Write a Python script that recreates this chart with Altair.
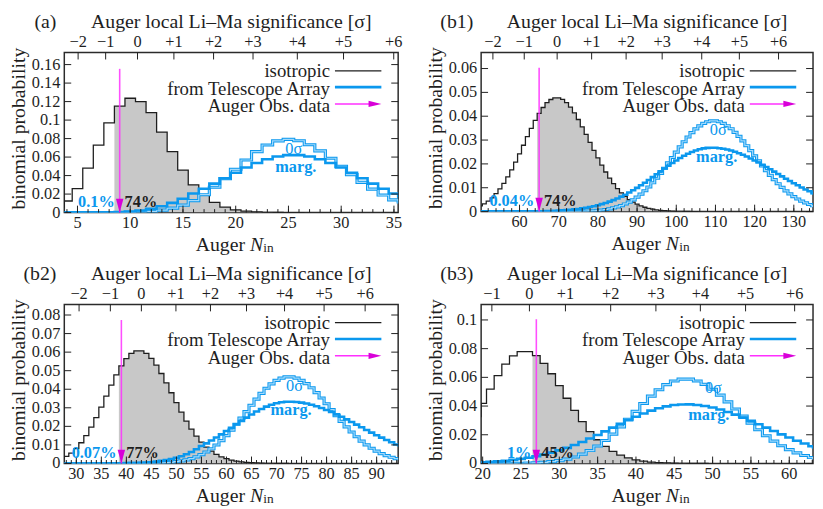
import altair as alt
import pandas as pd

FONT = "Liberation Serif"
INK = "#1e1e1e"
GRAY = "#c8c8c8"
BLUE = "#0b98ee"
BLUE_IN = "#a4dafc"
MAG_LINE = "#ff30ff"
MAG_HEAD = "#d800d8"

SIG9 = ["\u22122", "\u22121", "0", "+1", "+2", "+3", "+4", "+5", "+6"]
SIG8 = ["\u22121", "0", "+1", "+2", "+3", "+4", "+5", "+6"]

# ---------------- panel (a) ----------------
A_ISO_N0 = 3
A_ISO = [0.0055, 0.0125, 0.026, 0.048, 0.073, 0.097, 0.115, 0.1236, 0.120, 0.108,
         0.087, 0.066, 0.046, 0.030, 0.019, 0.011, 0.006, 0.003, 0.0015, 0.0007,
         0.0003, 0.0001, 0.00005, 0.00002]
A_TA0_N0 = 3
A_TA0 = [0, 0, 0, 0, 0.00001, 0.00004, 0.00011, 0.00027, 0.00063, 0.00133,
         0.00261, 0.00475, 0.00808, 0.01287, 0.01931, 0.02735, 0.03671, 0.04680, 0.05683, 0.06587,
         0.07303, 0.07760, 0.07915, 0.07763, 0.07332, 0.06677, 0.05871, 0.04990, 0.04105, 0.03271,
         0.02528, 0.01896, 0.01381, 0.00978]
A_TAM_N0 = 3
A_TAM = [0, 0, 0.00001, 0.00003, 0.0001, 0.0002, 0.0005, 0.0011, 0.0022, 0.0040,
         0.0068, 0.0105, 0.0150, 0.0207, 0.0258, 0.0313, 0.0372, 0.0431, 0.0487, 0.0536,
         0.0577, 0.0606, 0.0621, 0.0621, 0.0606, 0.0577, 0.0536, 0.0487, 0.0431, 0.0372,
         0.0313, 0.0258, 0.0207, 0.0163]

# ---------------- panel (b1) ----------------
B1_ISO_N0 = 50
B1_ISO = [0.00238, 0.00327, 0.00439, 0.00578, 0.00749, 0.00950, 0.01185, 0.01454, 0.01753, 0.02077,
          0.02422, 0.02783, 0.03142, 0.03490, 0.03822, 0.04119, 0.04366, 0.04567, 0.04701, 0.04769,
          0.04770, 0.04703, 0.04571, 0.04379, 0.04144, 0.03863, 0.03556, 0.03234, 0.02900, 0.02569,
          0.02250, 0.01945, 0.01661, 0.01402, 0.01169, 0.00964, 0.00787, 0.00634, 0.00505, 0.00397,
          0.00311, 0.00239, 0.00182, 0.00136, 0.00101, 0.00074, 0.00054, 0.00038, 0.00027, 0.00019,
          0.00013, 0.00009, 0.00006, 0.00004, 0.00002, 0.00001]
B1_TA0_N0 = 50
B1_TA0 = [0, 0, 0, 0, 0, 0, 0, 0, 0, 0,
          0, 0, 0, 0, 0, 0, 0, 0, 0, 0,
          0.00001, 0.00002, 0.00003, 0.00004, 0.00006, 0.00009, 0.00013, 0.00018, 0.00026, 0.00036,
          0.00049, 0.00066, 0.00088, 0.00117, 0.00153, 0.00198, 0.00253, 0.00320, 0.00400, 0.00494,
          0.00604, 0.00730, 0.00873, 0.01032, 0.01208, 0.01399, 0.01603, 0.01818, 0.02041, 0.02268,
          0.02495, 0.02717, 0.02930, 0.03129, 0.03309, 0.03467, 0.03598, 0.03699, 0.03767, 0.03802,
          0.03802, 0.03768, 0.03700, 0.03602, 0.03476, 0.03325, 0.03153, 0.02964, 0.02763, 0.02554,
          0.02341, 0.02128, 0.01919, 0.01716, 0.01522, 0.01339, 0.01169, 0.01013, 0.00870, 0.00742,
          0.00628, 0.00527, 0.00439, 0.00363, 0.00298, 0.00243, 0.00197]
B1_TAM_N0 = 50
B1_TAM = [0.00001, 0.00001, 0.00001, 0.00001, 0.00001, 0.00001, 0.00001, 0.00002, 0.00002, 0.00003,
          0.00004, 0.00005, 0.00006, 0.00008, 0.00010, 0.00013, 0.00017, 0.00021, 0.00027, 0.00033,
          0.00041, 0.00051, 0.00063, 0.00077, 0.00093, 0.00112, 0.00135, 0.00161, 0.00192, 0.00227,
          0.00267, 0.00312, 0.00363, 0.00419, 0.00482, 0.00552, 0.00628, 0.00710, 0.00799, 0.00894,
          0.00995, 0.01102, 0.01213, 0.01328, 0.01446, 0.01565, 0.01686, 0.01805, 0.01923, 0.02037,
          0.02146, 0.02249, 0.02343, 0.02428, 0.02502, 0.02565, 0.02615, 0.02651, 0.02673, 0.02680,
          0.02675, 0.02660, 0.02636, 0.02602, 0.02560, 0.02508, 0.02449, 0.02383, 0.02310, 0.02230,
          0.02146, 0.02057, 0.01965, 0.01870, 0.01773, 0.01675, 0.01576, 0.01478, 0.01381, 0.01286,
          0.01192, 0.01102, 0.01014, 0.00930, 0.00850, 0.00775, 0.00705]

# ---------------- panel (b2) ----------------
B2_ISO_N0 = 27
B2_ISO = [0.00247, 0.00379, 0.00561, 0.00805, 0.01116, 0.01500, 0.01955, 0.02472, 0.03037, 0.03627,
          0.04216, 0.04770, 0.05260, 0.05654, 0.05930, 0.06071, 0.06071, 0.05933, 0.05669, 0.05299,
          0.04848, 0.04343, 0.03811, 0.03278, 0.02764, 0.02285, 0.01854, 0.01476, 0.01154, 0.00886,
          0.00668, 0.00495, 0.00361, 0.00259, 0.00182, 0.00127, 0.00086, 0.00058, 0.00038, 0.00025,
          0.00016, 0.00010, 0.00006, 0.00004, 0.00002, 0.00001]
B2_TA0_N0 = 27
B2_TA0 = [0, 0, 0, 0, 0, 0, 0, 0, 0, 0, 0, 0, 0,
          0.00001, 0.00002, 0.00003, 0.00004, 0.00007, 0.00012, 0.00018, 0.00029, 0.00044, 0.00065,
          0.00095, 0.00137, 0.00192, 0.00264, 0.00357, 0.00474, 0.00618, 0.00791, 0.00996, 0.01232,
          0.01499, 0.01794, 0.02112, 0.02447, 0.02791, 0.03135, 0.03467, 0.03777, 0.04055, 0.04290,
          0.04474, 0.04600, 0.04664, 0.04664, 0.04601, 0.04478, 0.04301, 0.04078, 0.03817, 0.03527,
          0.03218, 0.02900, 0.02582, 0.02271, 0.01974, 0.01695, 0.01439, 0.01207, 0.01001, 0.00821,
          0.00666, 0.00534, 0.00424, 0.00333, 0.00259, 0.00199]
B2_TAM_N0 = 27
B2_TAM = [0.00001, 0.00001, 0.00001, 0.00001, 0.00001, 0.00001, 0.00001, 0.00001, 0.00002, 0.00003,
          0.00004, 0.00005, 0.00006, 0.00011, 0.00017, 0.00025, 0.00036, 0.0005, 0.0007, 0.0010,
          0.0014, 0.0018, 0.0024, 0.0031, 0.0039, 0.0050, 0.0062, 0.0077, 0.00939, 0.01081,
          0.01234, 0.01397, 0.01568, 0.01746, 0.01928, 0.02112, 0.02293, 0.02470, 0.02639, 0.02797,
          0.02939, 0.03063, 0.03166, 0.03245, 0.03299, 0.03327, 0.03328, 0.03311, 0.03277, 0.03227,
          0.03163, 0.03083, 0.02990, 0.02885, 0.02770, 0.02645, 0.02514, 0.02377, 0.02235, 0.02092,
          0.01948, 0.01804, 0.01663, 0.01524, 0.01391, 0.01262, 0.01140, 0.01024, 0.00915]

# ---------------- panel (b3) ----------------
B3_ISO_N0 = 19
B3_ISO = [0.03218, 0.04184, 0.05180, 0.06122, 0.06920, 0.07497, 0.07797, 0.07797, 0.07508, 0.06972,
          0.06251, 0.05417, 0.04544, 0.03692, 0.02909, 0.02224, 0.01652, 0.01193, 0.00839, 0.00574,
          0.00383, 0.00249, 0.00158, 0.00098, 0.00059, 0.00035, 0.00020, 0.00011, 0.00006, 0.00003,
          0.00001]
B3_TA0_N0 = 19
B3_TA0 = [0, 0, 0.00001, 0.00002, 0.00004, 0.00007, 0.00014, 0.00025, 0.00045, 0.00076,
          0.00125, 0.00198, 0.00303, 0.00449, 0.00646, 0.00901, 0.01219, 0.01602, 0.02047, 0.02545,
          0.03081, 0.03634, 0.04179, 0.04689, 0.05136, 0.05494, 0.05744, 0.05872, 0.05872, 0.05747,
          0.05508, 0.05171, 0.04757, 0.04291, 0.03796, 0.03295, 0.02807, 0.02348, 0.01929, 0.01557,
          0.01235, 0.00963, 0.00738, 0.00557, 0.00413, 0.00302]
B3_TAM_N0 = 19
B3_TAM = [0.00062, 0.00084, 0.00112, 0.00148, 0.00193, 0.00249, 0.00318, 0.00402, 0.00501, 0.00619,
          0.00755, 0.00912, 0.01088, 0.01285, 0.01501, 0.01734, 0.01980, 0.02237, 0.02499, 0.02761,
          0.03017, 0.03260, 0.03484, 0.03683, 0.03850, 0.03980, 0.04069, 0.04114, 0.04115, 0.04078,
          0.04005, 0.03898, 0.03759, 0.03592, 0.03401, 0.03192, 0.02969, 0.02736, 0.02499, 0.02262,
          0.02028, 0.01803, 0.01588, 0.01386, 0.01199, 0.01028]

PANELS = [
    dict(tag="(a)", W=338, H=162, xdom=[3.75, 35.4], ydom=[0, 0.173],
         yticks=[0, 0.02, 0.04, 0.06, 0.08, 0.1, 0.12, 0.14, 0.16],
         xmajor=[5, 10, 15, 20, 25, 30, 35], xminor=list(range(4, 36)),
         sigN=[5.06, 7.67, 10.69, 14.14, 17.9, 21.64, 25.84, 30.22, 34.98], sigL=SIG9,
         iso=(A_ISO_N0, A_ISO), ta0=(A_TA0_N0, A_TA0), tam=(A_TAM_N0, A_TAM),
         nobs=9, atop=0.1554, pta="0.1%", piso="74%", l0=(25.5, 0.069), lm=(25.7, 0.0497)),
    dict(tag="(b1)", W=336, H=161, xdom=[50.2, 134.9], ydom=[0, 0.0667],
         yticks=[0, 0.01, 0.02, 0.03, 0.04, 0.05, 0.06],
         xmajor=[60, 70, 80, 90, 100, 110, 120, 130], xminor=list(range(52, 135, 2)),
         sigN=[53.2, 61.2, 69.6, 78.4, 87.2, 96.4, 106.5, 116.1, 126.1], sigL=SIG9,
         iso=(B1_ISO_N0, B1_ISO), ta0=(B1_TA0_N0, B1_TA0), tam=(B1_TAM_N0, B1_TAM),
         nobs=65, atop=0.0603, pta="0.04%", piso="74%", l0=(110.7, 0.0341), lm=(110.3, 0.0228)),
    dict(tag="(b2)", W=338, H=161, xdom=[27.6, 94.3], ydom=[0, 0.0857],
         yticks=[0, 0.01, 0.02, 0.03, 0.04, 0.05, 0.06, 0.07, 0.08],
         xmajor=[30, 35, 40, 45, 50, 55, 60, 65, 70, 75, 80, 85, 90], xminor=list(range(28, 95)),
         sigN=[30.55, 36.8, 43.0, 49.9, 56.8, 64.0, 71.6, 79.5, 87.7], sigL=SIG9,
         iso=(B2_ISO_N0, B2_ISO), ta0=(B2_TA0_N0, B2_TA0), tam=(B2_TAM_N0, B2_TAM),
         nobs=39, atop=0.0773, pta="0.07%", piso="77%", l0=(73.6, 0.0419), lm=(72.9, 0.0287)),
    dict(tag="(b3)", W=336, H=161, xdom=[19.8, 63.1], ydom=[0, 0.1108],
         yticks=[0, 0.02, 0.04, 0.06, 0.08, 0.1],
         xmajor=[20, 25, 30, 35, 40, 45, 50, 55, 60], xminor=list(range(20, 64)),
         sigN=[21.2, 26.1, 30.8, 36.7, 42.6, 48.4, 54.3, 60.7], sigL=SIG8,
         iso=(B3_ISO_N0, B3_ISO), ta0=(B3_TA0_N0, B3_TA0), tam=(B3_TAM_N0, B3_TAM),
         nobs=27, atop=0.1005, pta="1%", piso="45%", l0=(50.1, 0.0522), lm=(49.5, 0.0334)),
]

DOWN = "M-0.27,-1L0.27,-1L0,0Z"
RIGHT = "M-1,-0.24L-1,0.24L0,0Z"
ONE = pd.DataFrame({"d": [0]})
TTL = 20
LEG = 19
NUM = 16.5


def steps(series, dom):
    n0, vals = series
    lo, hi = dom
    xs = [n0 + i - 0.5 for i in range(len(vals))] + [n0 + len(vals) - 0.5]
    ps = list(vals) + [vals[-1]]
    # keep the outline inside the plotting frame
    xs = [min(max(x, lo), hi) for x in xs]
    return pd.DataFrame({"x": xs, "p": ps})


def txt(text, x, y, size=TTL, align="center", weight="normal", style="normal",
        color=INK, angle=0):
    kw = dict(text=text, font=FONT, fontSize=size, align=align, baseline="middle",
              fontWeight=weight, fontStyle=style, color=color)
    if angle:
        kw["angle"] = angle
    return alt.Chart(ONE).mark_text(**kw).encode(x=alt.value(x), y=alt.value(y))


def panel(c):
    W, H = c["W"], c["H"]
    X = alt.X("x:Q", scale=alt.Scale(domain=c["xdom"], nice=False, zero=False), axis=None)
    Y = alt.Y("p:Q", scale=alt.Scale(domain=c["ydom"], nice=False, zero=False), axis=None)
    iso = steps(c["iso"], c["xdom"])
    fill = iso[iso["x"] >= c["nobs"] - 0.5].reset_index(drop=True)
    ta0 = steps(c["ta0"], c["xdom"])
    tam = steps(c["tam"], c["xdom"])
    L = []
    L.append(alt.Chart(fill).mark_area(interpolate="step-after", color=GRAY, clip=True).encode(X, Y))
    L.append(alt.Chart(iso).mark_line(interpolate="step-after", color=INK, strokeWidth=1.3, clip=True).encode(X, Y))
    L.append(alt.Chart(ta0).mark_line(interpolate="step-after", color=BLUE, strokeWidth=3.2, clip=True).encode(X, Y))
    L.append(alt.Chart(ta0).mark_line(interpolate="step-after", color=BLUE_IN, strokeWidth=1.2, clip=True).encode(X, Y))
    L.append(alt.Chart(tam).mark_line(interpolate="step-after", color=BLUE, strokeWidth=2.6, clip=True).encode(X, Y))

    # ticks (inward)
    L.append(alt.Chart(pd.DataFrame({"x": c["xminor"]})).mark_rule(color=INK, strokeWidth=1)
             .encode(X, y=alt.value(H), y2=alt.value(H - 3.5)))
    L.append(alt.Chart(pd.DataFrame({"x": c["xmajor"]})).mark_rule(color=INK, strokeWidth=1)
             .encode(X, y=alt.value(H), y2=alt.value(H - 7)))
    L.append(alt.Chart(pd.DataFrame({"x": c["sigN"]})).mark_rule(color=INK, strokeWidth=1)
             .encode(X, y=alt.value(0), y2=alt.value(7)))
    yt = pd.DataFrame({"p": c["yticks"]})
    L.append(alt.Chart(yt).mark_rule(color=INK, strokeWidth=1).encode(Y, x=alt.value(0), x2=alt.value(7)))
    L.append(alt.Chart(yt).mark_rule(color=INK, strokeWidth=1).encode(Y, x=alt.value(W - 7), x2=alt.value(W)))

    # tick labels
    L.append(alt.Chart(pd.DataFrame({"x": c["xmajor"], "t": [str(v) for v in c["xmajor"]]}))
             .mark_text(font=FONT, fontSize=NUM, color=INK, baseline="middle")
             .encode(X, y=alt.value(H + 11), text="t:N"))
    L.append(alt.Chart(pd.DataFrame({"p": c["yticks"], "t": [f"{v:g}" for v in c["yticks"]]}))
             .mark_text(font=FONT, fontSize=NUM, color=INK, align="right", baseline="middle")
             .encode(Y, x=alt.value(-4), text="t:N"))
    L.append(alt.Chart(pd.DataFrame({"x": c["sigN"], "t": c["sigL"]}))
             .mark_text(font=FONT, fontSize=NUM, color=INK, baseline="middle")
             .encode(X, y=alt.value(-11), text="t:N"))

    # observed arrow
    L.append(alt.Chart(pd.DataFrame({"x": [c["nobs"]], "p": [c["atop"]], "p0": [0.0]}))
             .mark_rule(color=MAG_LINE, strokeWidth=1.6, opacity=0.85).encode(X, Y, y2="p0:Q"))
    L.append(alt.Chart(pd.DataFrame({"x": [c["nobs"]], "p": [0.0]}))
             .mark_point(shape=DOWN, size=784, filled=True, color=MAG_HEAD, opacity=1, strokeWidth=0)
             .encode(X, Y))

    # percentages
    obs = pd.DataFrame({"x": [c["nobs"]]})
    L.append(alt.Chart(obs).mark_text(text=c["pta"], font=FONT, fontSize=NUM, color=BLUE,
                                      fontWeight="bold", align="right", baseline="middle", dx=-5)
             .encode(X, y=alt.value(H - 11)))
    L.append(alt.Chart(obs).mark_text(text=c["piso"], font=FONT, fontSize=NUM, color=INK,
                                      fontWeight="bold", align="left", baseline="middle", dx=5)
             .encode(X, y=alt.value(H - 11)))
    # curve labels
    L.append(alt.Chart(pd.DataFrame({"x": [c["l0"][0]], "p": [c["l0"][1]]}))
             .mark_text(text="0\u03c3", font=FONT, fontSize=NUM, color=BLUE, baseline="middle").encode(X, Y))
    L.append(alt.Chart(pd.DataFrame({"x": [c["lm"][0]], "p": [c["lm"][1]]}))
             .mark_text(text="marg.", font=FONT, fontSize=NUM, color=BLUE, fontWeight="bold",
                        baseline="middle").encode(X, Y))

    # legend
    tx = W - 69
    L.append(txt("isotropic", tx, 19, size=LEG, align="right"))
    L.append(txt("from Telescope Array", tx, 36.5, size=LEG, align="right"))
    L.append(txt("Auger Obs. data", tx, 54, size=LEG, align="right"))
    L.append(alt.Chart(ONE).mark_rule(color=INK, strokeWidth=1.3)
             .encode(x=alt.value(W - 64), x2=alt.value(W - 17), y=alt.value(18.5)))
    L.append(alt.Chart(ONE).mark_rule(color=BLUE, strokeWidth=2.6)
             .encode(x=alt.value(W - 64), x2=alt.value(W - 17), y=alt.value(35)))
    L.append(alt.Chart(ONE).mark_rule(color=MAG_LINE, strokeWidth=1.6)
             .encode(x=alt.value(W - 64), x2=alt.value(W - 28), y=alt.value(52)))
    L.append(alt.Chart(ONE).mark_point(shape=RIGHT, size=676, filled=True, color=MAG_HEAD,
                                       opacity=1, strokeWidth=0)
             .encode(x=alt.value(W - 17), y=alt.value(52)))

    # titles
    L.append(txt(c["tag"], -8, -31, align="right"))
    L.append(txt("Auger local Li\u2013Ma significance [\u03c3]", W / 2, -31))
    L.append(txt("binomial probability", -46, H / 2 - 4, angle=270))
    L.append(txt("Auger", W / 2 + 14, H + 33, align="right"))
    L.append(txt("N", W / 2 + 19, H + 33, align="left", style="italic"))
    L.append(txt("in", W / 2 + 32.5, H + 36, size=13.5, align="left"))

    return alt.layer(*L).properties(width=W, height=H)


chart = alt.concat(*[panel(c) for c in PANELS], columns=2,
                   spacing={"row": 93, "column": 84}, bounds="flush", align="each")
chart = chart.properties(padding=0).configure_view(stroke="#2b2b2b", strokeWidth=1.5)
chart.save("out.html", embed_options={"renderer": "svg", "actions": False})
